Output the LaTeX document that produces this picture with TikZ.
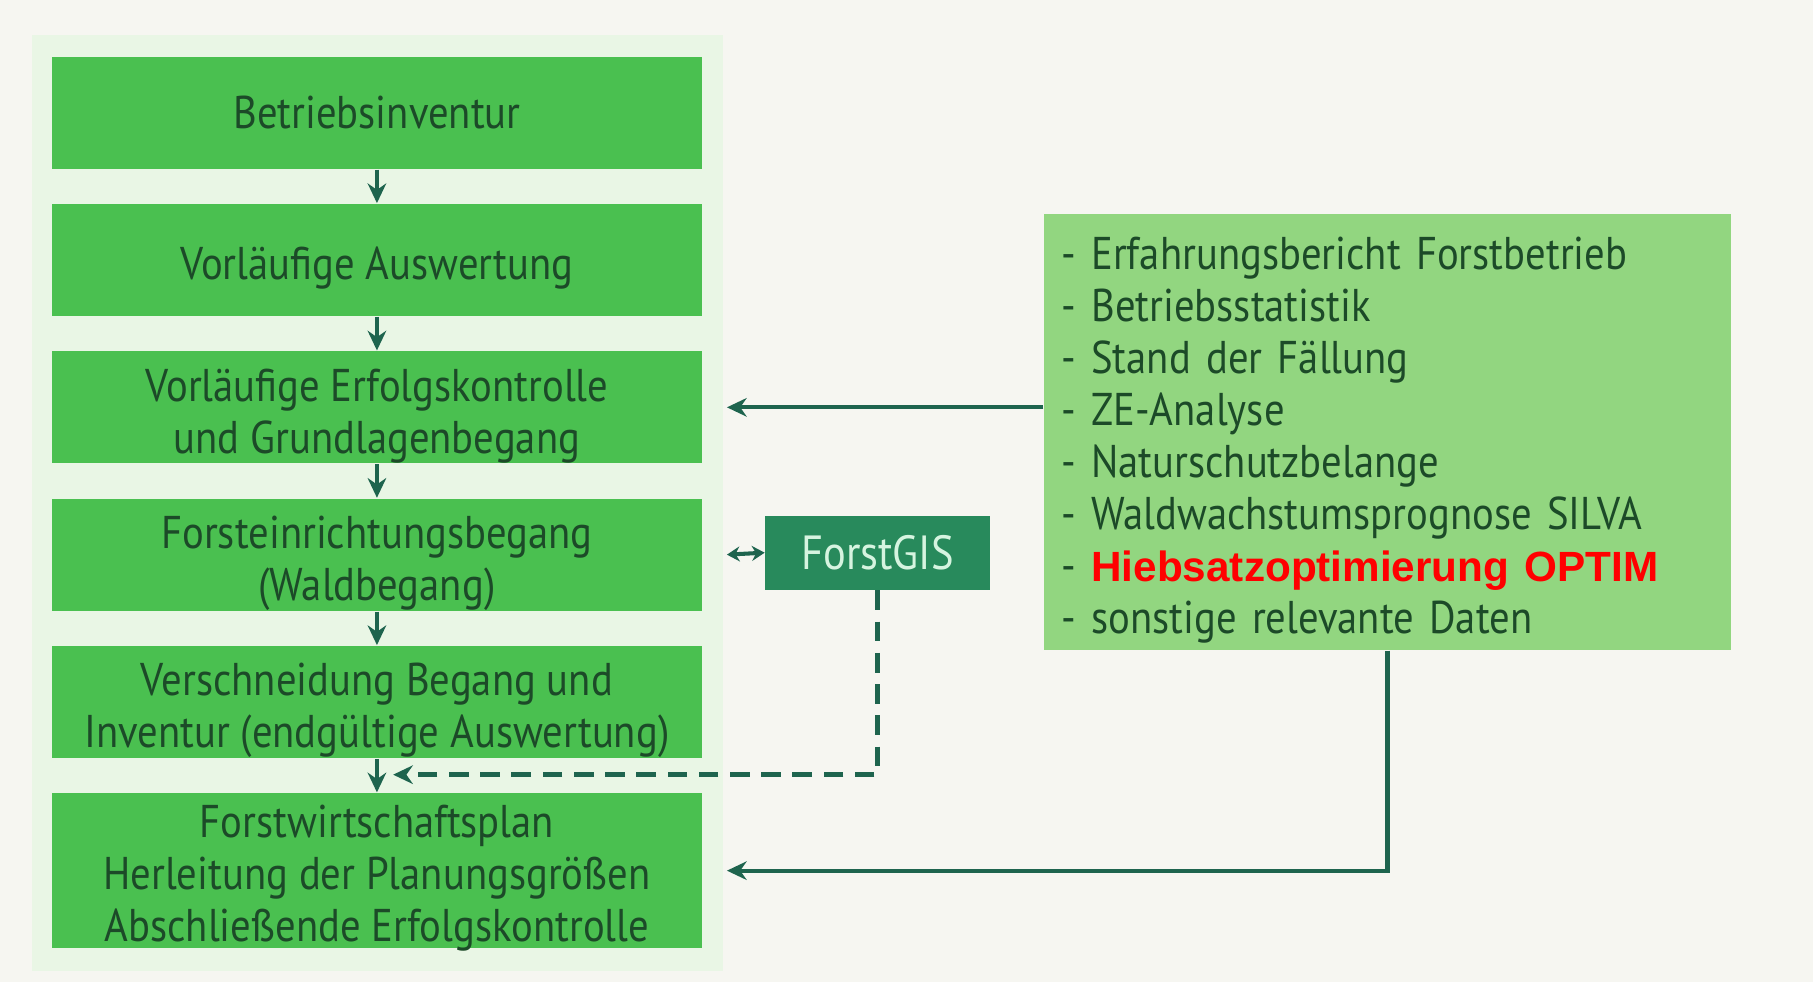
\documentclass[tikz,border=0pt]{standalone}
\usepackage{fontspec}
\setmainfont{PT Sans}[FakeStretch=0.885]
\newfontfamily\optimfont{Liberation Sans}
\usepackage{xcolor}
\usepackage{tikz}
\usetikzlibrary{arrows.meta, positioning}
\definecolor{figback}{RGB}{246,246,241}
\definecolor{figpanel}{RGB}{233,246,229}
\definecolor{stagegreen}{RGB}{74,192,80}
\definecolor{infogreen}{RGB}{146,214,128}
\definecolor{gisgreen}{RGB}{40,138,92}
\definecolor{gistext}{RGB}{214,244,224}
\definecolor{flowgreen}{RGB}{30,100,78}
\definecolor{textgreen}{RGB}{28,74,40}
\newcommand{\topstrut}{\rule{0pt}{12.2pt}}
\newcommand{\nodepth}[1]{\raisebox{0pt}[\height][0pt]{#1}}
\tikzstyle{stage} = [rectangle, fill=stagegreen, text=textgreen, align=center, minimum width=5.62cm, minimum height=0.97cm, inner sep=0pt]
\tikzstyle{flowarrow} = [-{Stealth[length=1.7mm, width=1.6mm]}, line width=1pt, draw=flowgreen]

\begin{document}
\begin{tikzpicture}[font=\fontsize{11.3}{12.8}\selectfont]
    \fill[figback] (0,0) rectangle (15.68,8.49);
    \useasboundingbox (0,0) rectangle (15.68,8.49);
    \fill[figpanel] (0.28,0.09) rectangle (6.25,8.19);
    \node[stage] (inventur) at (3.26,7.515) {Betriebsinventur};
    \node[stage, below=0.29cm of inventur] (auswertung) {\topstrut Vorläufige Auswertung};
    \node[stage, below=0.29cm of auswertung] (erfolg)
        {\topstrut Vorläufige Erfolgskontrolle\\und Grundlagenbegang};
    \node[stage, below=0.29cm of erfolg] (begang)
        {\topstrut Forsteinrichtungsbegang\\(Waldbegang)};
    \node[stage, below=0.29cm of begang] (verschneidung)
        {\topstrut Verschneidung Begang und\\Inventur (endgültige Auswertung)};
    \node[stage, minimum height=1.34cm] (plan) at (3.26,0.96)
        {\rule{0pt}{9.2pt}Forstwirtschaftsplan\\Herleitung der Planungsgrößen\\\nodepth{Abschließende Erfolgskontrolle}};
    \node[fill=gisgreen, text=gistext, minimum width=1.94cm, minimum height=0.64cm,
        inner sep=0pt, font=\fontsize{11.8}{13}\selectfont] (gis) at (7.59,3.71) {ForstGIS};
    \node[fill=infogreen, text=textgreen, align=left, text width=5.64cm, inner xsep=0.15cm,
        inner ysep=0pt, minimum height=3.77cm] (daten) at (12.0,4.755)
        {\topstrut- Erfahrungsbericht Forstbetrieb\\
         - Betriebsstatistik\\
         - Stand der Fällung\\
         - ZE-Analyse\\
         - Naturschutzbelange\\
         - Waldwachstumsprognose SILVA\\
         - {\optimfont\bfseries\fontsize{10.4}{12.8}\selectfont\color{red}Hiebsatzoptimierung OPTIM}\\
         - sonstige relevante Daten};
    \coordinate (dashend) at (3.40,1.79);
    \draw[flowarrow] (inventur) -- (auswertung);
    \draw[flowarrow] (auswertung) -- (erfolg);
    \draw[flowarrow] (erfolg) -- (begang);
    \draw[flowarrow] (begang) -- (verschneidung);
    \draw[flowarrow] (verschneidung) -- (plan);
    \draw[flowarrow] (daten.west |- erfolg) -- ([xshift=0.21cm]erfolg.east);
    \draw[flowarrow] (daten.south) |- ([xshift=0.21cm]plan.east);
    \draw[flowarrow, {Stealth[length=1.1mm, width=1.3mm]}-{Stealth[length=1.1mm, width=1.3mm]}]
        ([xshift=0.21cm]begang.east) -- (gis.west);
    \draw[flowarrow, line width=1.3pt, dash pattern=on 0.17cm off 0.1cm] (gis.south) |- (dashend);
\end{tikzpicture}
\end{document}
